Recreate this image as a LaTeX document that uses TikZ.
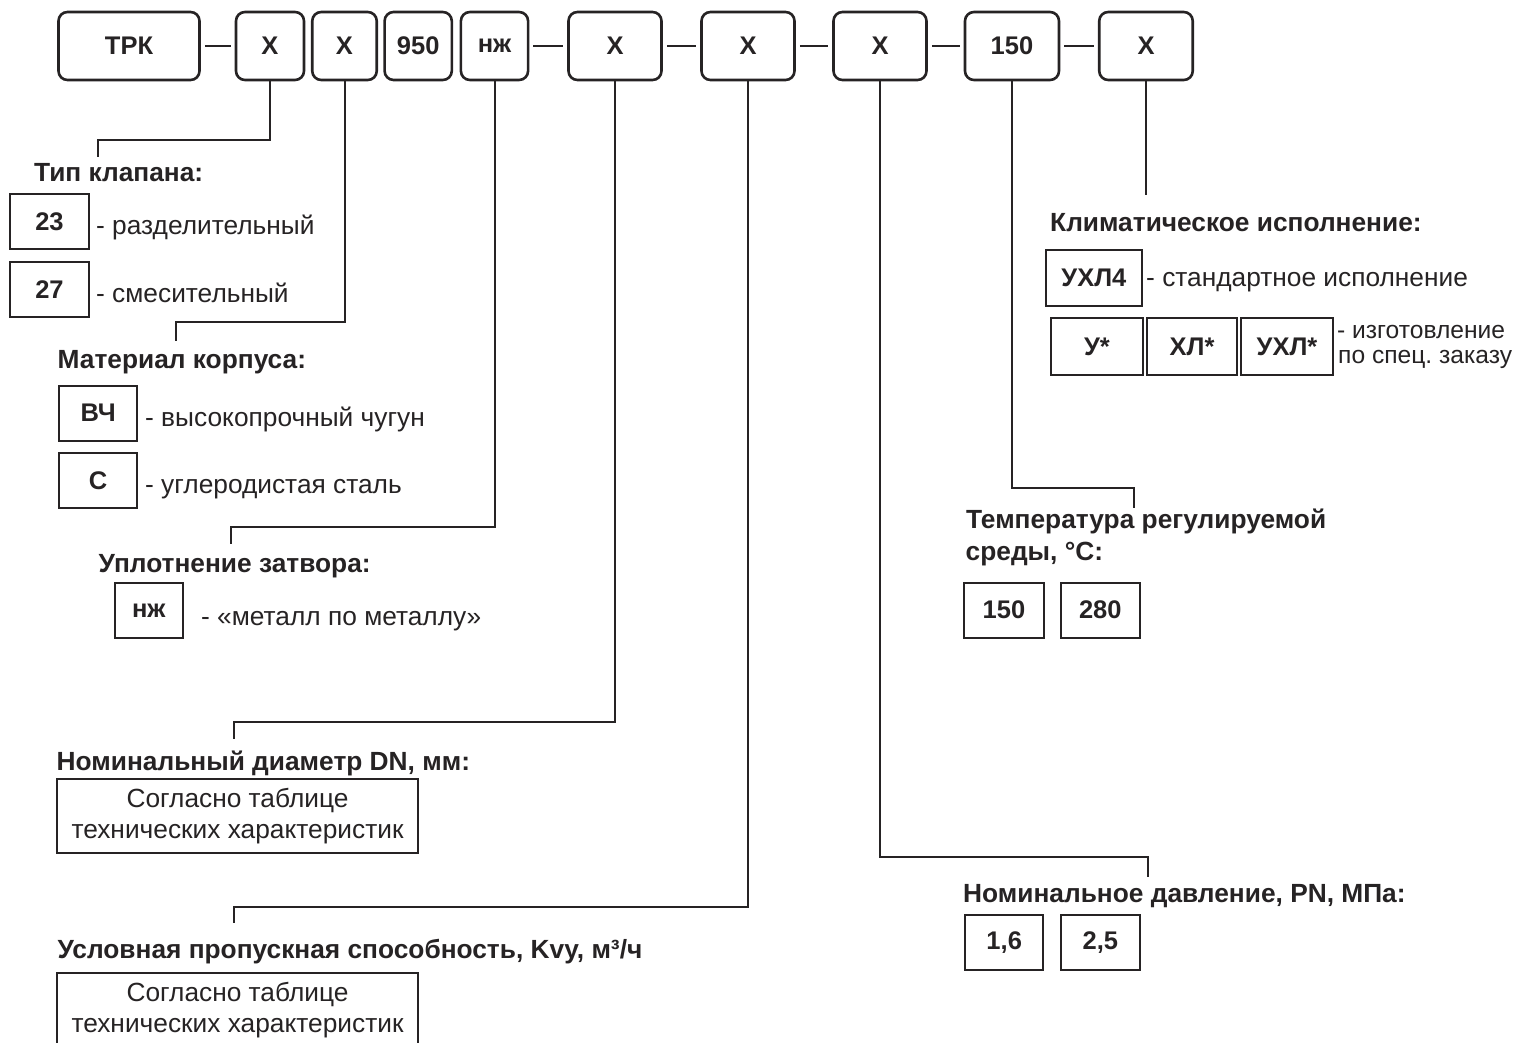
\documentclass[tikz,border=0pt]{standalone}
\usepackage{fontspec}
\setmainfont{Liberation Sans}
\definecolor{ink}{HTML}{262324}
\frenchspacing
\begin{document}
\begin{tikzpicture}[x=1pt,y=-1pt,
  hd/.style={anchor=base west, inner sep=0, font=\bfseries\fontsize{26.3}{31}\selectfont, text=ink},
  ds/.style={anchor=base west, inner sep=0, font=\fontsize{26.3}{31}\selectfont, text=ink},
  topbox/.style={draw=ink, line width=2.6pt, rounded corners=9pt, minimum height=68pt, inner sep=0, font=\bfseries\fontsize{25.5}{30}\selectfont, text=ink},
  sbox/.style={draw=ink, line width=2pt, inner sep=0, minimum height=55pt, font=\bfseries\fontsize{25.5}{30}\selectfont, text=ink},
  tbox/.style={draw=ink, line width=2pt, inner sep=0, minimum width=360.4pt, minimum height=73.4pt, align=center, font=\fontsize{26.3}{31.7}\selectfont, text=ink},
  conn/.style={draw=ink, line width=2pt},
  dashln/.style={draw=ink, line width=2.4pt, shorten <=4pt, shorten >=4pt}]
\useasboundingbox (0,0) rectangle (1521,1043);
% top row
\node[topbox, minimum width=141pt] (trk) at (129,46) {ТРК};
\node[topbox, minimum width=68pt] (x1) at (270,46) {Х};
\node[topbox, minimum width=64.5pt] (x2) at (344.5,46) {Х};
\node[topbox, minimum width=67.2pt] (n950) at (418.2,46) {950};
\node[topbox, minimum width=67.2pt] (nzh) at (494.5,46) {нж};
\node[topbox, minimum width=93pt] (xdn) at (615,46) {Х};
\node[topbox, minimum width=93pt] (xkv) at (748,46) {Х};
\node[topbox, minimum width=93pt] (xpn) at (880,46) {Х};
\node[topbox, minimum width=94pt] (t150) at (1012,46) {150};
\node[topbox, minimum width=93.5pt] (xcl) at (1146,46) {Х};
\draw[dashln] (trk) -- (x1);
\draw[dashln] (nzh) -- (xdn);
\draw[dashln] (xdn) -- (xkv);
\draw[dashln] (xkv) -- (xpn);
\draw[dashln] (xpn) -- (t150);
\draw[dashln] (t150) -- (xcl);
% connector end points
\coordinate (k1) at (98,140);    \coordinate (e1) at (98,157);
\coordinate (k2) at (175.5,322); \coordinate (e2) at (175.5,341);
\coordinate (k3) at (230.7,527.3); \coordinate (e3) at (230.7,544);
\coordinate (k4) at (234.3,721.7); \coordinate (e4) at (234.3,739.3);
\coordinate (k5) at (234.3,906.5); \coordinate (e5) at (234.3,923.3);
\coordinate (k6) at (1147.7,857.3); \coordinate (e6) at (1147.7,877.3);
\coordinate (k7) at (1134,488.3); \coordinate (e7) at (1134,507.7);
\coordinate (e8) at (1146,195);
\draw[conn] (x1.south) |- (k1) -- (e1);
\draw[conn] (x2.south) |- (k2) -- (e2);
\draw[conn] (nzh.south) |- (k3) -- (e3);
\draw[conn] (xdn.south) |- (k4) -- (e4);
\draw[conn] (xkv.south) |- (k5) -- (e5);
\draw[conn] (xpn.south) |- (k6) -- (e6);
\draw[conn] (t150.south) |- (k7) -- (e7);
\draw[conn] (xcl.south) -- (e8);
% valve type
\node[hd] (h1) at (34,182) {Тип клапана:};
\node[sbox, minimum width=79pt] (b23) at (49.5,221.5) {23};
\node[ds] (d23) at (96,235) {- разделительный};
\node[sbox, minimum width=79pt] (b27) at (49.5,289.2) {27};
\node[ds] (d27) at (96,302) {- смесительный};
% body material
\node[hd] (h2) at (57.5,368) {Материал корпуса:};
\node[sbox, minimum width=78.3pt] (bvch) at (98.2,413.2) {ВЧ};
\node[ds] (dvch) at (145,426.5) {- высокопрочный чугун};
\node[sbox, minimum width=78.3pt] (bs) at (98.2,480.8) {С};
\node[ds] (ds) at (145,493.5) {- углеродистая сталь};
% seal
\node[hd] (h3) at (98.5,572) {Уплотнение затвора:};
\node[sbox, minimum width=67.7pt, minimum height=55.6pt] (bnzh) at (148.8,610.5) {нж};
\node[ds] (dnzh) at (201,625) {- «металл по металлу»};
% DN
\node[hd] (h4) at (56.5,770) {Номинальный диаметр DN, мм:};
\node[tbox] (bdn) at (237.5,816) {Согласно таблице\\технических характеристик};
% Kvy
\node[hd] (h5) at (57.5,958) {Условная пропускная способность, Kvy, м³/ч};
\node[tbox] (bkv) at (237.5,1010) {Согласно таблице\\технических характеристик};
% climate
\node[hd] (h8) at (1050,232) {Климатическое исполнение:};
\node[sbox, minimum width=95.7pt, minimum height=55.7pt] (buhl4) at (1093.9,277.9) {УХЛ4};
\node[ds] (duhl4) at (1146,287) {- стандартное исполнение};
\node[sbox, minimum width=92.3pt, minimum height=57pt] (bu) at (1096.9,346.5) {У*};
\node[sbox, minimum width=89.4pt, minimum height=57pt] (bhl) at (1192,346.5) {ХЛ*};
\node[sbox, minimum width=91.4pt, minimum height=57pt] (buhl) at (1287,346.5) {УХЛ*};
\node[ds, font=\fontsize{24.6}{29}\selectfont] (dsp1) at (1337,338.5) {- изготовление};
\node[ds, font=\fontsize{24.6}{29}\selectfont] (dsp2) at (1338,363.5) {по спец. заказу};
% temperature
\node[hd] (h7) at (966,528.3) {Температура регулируемой};
\node[hd] (h7b) at (965.5,560) {среды, °С:};
\node[sbox, minimum width=80pt] (b150) at (1004,610.2) {150};
\node[sbox, minimum width=79.3pt] (b280) at (1100.3,610.2) {280};
% pressure
\node[hd] (h6) at (963,902) {Номинальное давление, PN, МПа:};
\node[sbox, minimum width=78.3pt] (b16) at (1004.2,942.5) {1,6};
\node[sbox, minimum width=79.3pt] (b25) at (1100.3,942.5) {2,5};
\end{tikzpicture}
\end{document}
